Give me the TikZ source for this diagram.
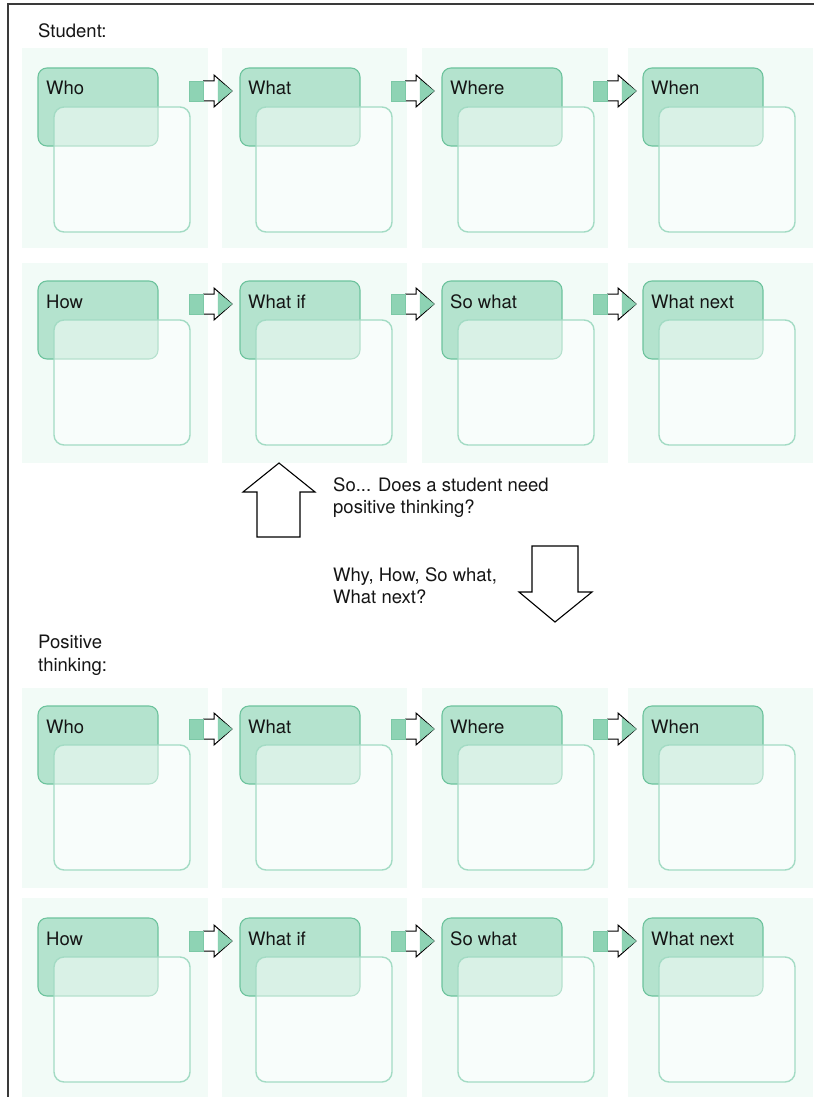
\documentclass[tikz,border=0pt]{standalone}
\usepackage{fontspec}
\setmainfont{TeX Gyre Heros}
\definecolor{cPanel}{HTML}{F2FBF7}
\definecolor{cHead}{HTML}{B4E3CE}
\definecolor{cHeadLine}{HTML}{6DC39D}
\definecolor{cBoxLine}{HTML}{A3DBC4}
\definecolor{cArrow}{HTML}{8ED3B4}
\definecolor{cArrowEdge}{HTML}{7CC8A6}
\definecolor{cFrame}{HTML}{3A3A3A}
\definecolor{cText}{HTML}{151515}
\tikzset{
  framestroke/.style={draw=cFrame, line width=1.4pt},
  panelfill/.style={fill=cPanel},
  headbox/.style={fill=cHead, draw=cHeadLine, line width=1.1pt, rounded corners=9pt},
  notebox/.style={fill=white, fill opacity=0.5, draw=cBoxLine, line width=1.4pt, rounded corners=10pt},
  txt/.style={anchor=base west, inner sep=0pt, text=cText, font=\fontsize{18.5}{22}\selectfont},
  arrowline/.style={draw=black, line width=1pt, line join=miter},
  greenarrow/.style={fill=cArrow, draw=cArrowEdge, line width=0.4pt},
  bigarrow/.style={draw=black, fill=white, line width=1.1pt, line join=miter},
  flowarrow/.pic={
    \fill[white] (14,-10) -- (25,-10) -- (25,-16) -- (43,0) -- (25,16) -- (25,10) -- (14,10) -- cycle;
    \draw[arrowline] (14,-10) -- (25,-10) -- (25,-16) -- (43,0) -- (25,16) -- (25,10) -- (14,10);
    \path[greenarrow] (0,-10) rectangle (14,10);
    \path[greenarrow] (29,-11) -- (43,0) -- (29,11) -- cycle;
  }
}
\begin{document}
\begin{tikzpicture}[x=1pt,y=-1pt]
\useasboundingbox (0,0) rectangle (814,1097);
% page frame (top and left edges)
\draw[framestroke] (8,1097) -- (8,4) -- (814,4);

% the four rows of question cards
\foreach \hy/\pt/\pb/\r/\odd in {68/48/248/1/1, 281/263/463/2/0, 706/688/888/3/1, 918/898/1097/4/0}{
  \foreach \hx/\pl/\pr/\c/\la/\lb in {38/22/208/1/Who/How, 240/222/407/2/What/What if, 442/422/608/3/Where/So what, 643/628/813/4/When/What next}{
    \fill[panelfill] (\pl,\pt) rectangle (\pr,\pb);
    \draw[headbox] (\hx,\hy) rectangle ({\hx+120},{\hy+78});
    \draw[notebox] ({\hx+16},{\hy+39}) rectangle ({\hx+152},{\hy+164});
    \ifnum\odd=1 \def\cardtext{\la}\else\def\cardtext{\lb}\fi
    \node[txt] (lbl-\r-\c) at ({\hx+8},{\hy+27}) {\cardtext};
  }
}

% small arrows between cards
\foreach \hy/\r in {68/1, 281/2, 706/3, 918/4}{
  \foreach \hx/\c in {38/1, 240/2, 442/3}{
    \pic (arr-\r-\c) at ({\hx+151},{\hy+23}) {flowarrow};
  }
}

% section titles
\node[txt] (t-student) at (38,37.5) {Student:};
\node[txt] (t-pos1) at (38,648) {Positive};
\node[txt] (t-pos2) at (38,671.5) {thinking:};

% big up and down arrows
\draw[bigarrow] (279,463) -- (315,492) -- (300,492) -- (300,537) -- (257,537) -- (257,492) -- (243,492) -- cycle;
\draw[bigarrow] (555,622) -- (592,592) -- (578,592) -- (578,546) -- (532,546) -- (532,592) -- (519,592) -- cycle;

% questions
\node[txt] (q1a) at (333,491) {So... Does a student need};
\node[txt] (q1b) at (333,513) {positive thinking?};
\node[txt] (q2a) at (333,581.5) {Why, How, So what,};
\node[txt] (q2b) at (333,603) {What next?};
\end{tikzpicture}
\end{document}
